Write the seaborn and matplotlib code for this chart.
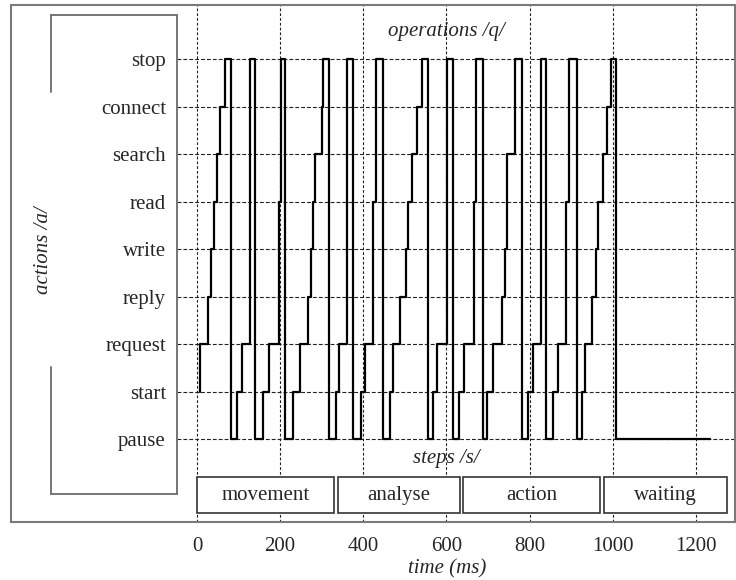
import matplotlib
matplotlib.use("Agg")
import matplotlib.pyplot as plt
from matplotlib.lines import Line2D
from matplotlib.patches import Rectangle
import seaborn as sns
import pandas as pd

# y categories, bottom to top
actions = ["pause", "start", "request", "reply", "write", "read", "search", "connect", "stop"]
time_ticks = [0, 200, 400, 600, 800, 1000, 1200]

# the trace starts on "start" and switches level at these times (ms)
trace_start_ms = 7
trace_end_ms = 1233
switch_ms = [7, 27, 34, 40, 47, 55, 67, 81, 96, 108, 128, 140, 158, 172, 196, 201,
             212, 230, 248, 268, 273, 280, 284, 300, 302, 318, 334, 342, 361, 376,
             394, 404, 424, 431, 447, 464, 471, 487, 503, 508, 516, 528, 540, 556,
             568, 576, 602, 615, 631, 642, 665, 671, 687, 697, 713, 733, 741, 746,
             765, 782, 797, 807, 827, 839, 857, 869, 887, 895, 915, 925, 933, 949,
             960, 965, 977, 985, 995, 1008]
# index into actions after each switch
switch_to = [2, 3, 4, 5, 6, 7, 8, 0, 1, 2, 8, 0, 1, 2, 5, 8,
             0, 1, 2, 3, 4, 5, 6, 7, 8, 0, 1, 2, 8, 0,
             1, 2, 5, 8, 0, 1, 2, 3, 4, 5, 6, 7, 8, 0,
             1, 2, 8, 0, 1, 2, 5, 8, 0, 1, 2, 3, 4, 6,
             8, 0, 1, 2, 8, 0, 1, 2, 5, 8, 0, 1, 2, 3,
             4, 5, 6, 7, 8, 0]

steps = ["movement", "analyse", "action", "waiting"]
step_from_ms = [0, 338, 640, 979]
step_to_ms = [330, 632, 969, 1275]

W, H = 736, 580


def fx(x):
    return x / W


def fy(y):
    return 1 - y / H


sns.set_style("white")
plt.rcParams["font.family"] = ["Liberation Serif", "DejaVu Serif"]

fig = plt.figure(figsize=(W / 100, H / 100), dpi=100)
ax = fig.add_axes([fx(177), fy(522), (735 - 177) / W, (522 - 5) / H])

# expand level switches into a stepped line
xs, ys = [trace_start_ms], [1]
level = 1
for t, new in zip(switch_ms, switch_to):
    xs += [t, t]
    ys += [level, new]
    level = new
xs.append(trace_end_ms)
ys.append(level)
df = pd.DataFrame({"time": xs, "level": ys})

sns.lineplot(data=df, x="time", y="level", sort=False, estimator=None,
             color="black", linewidth=1.6, ax=ax, zorder=3)

ax.set_xlim(-48.1, 1293.8)
ax.set_ylim(-1.747, 9.137)
ax.set_xticks(time_ticks)
ax.set_xticklabels([str(t) for t in time_ticks])
ax.set_yticks(range(len(actions)))
ax.set_yticklabels(actions)
ax.tick_params(length=0, labelsize=15)
ax.tick_params(axis="x", pad=11)
ax.tick_params(axis="y", pad=8)
ax.set_xlabel("")
ax.set_ylabel("")
ax.set_axisbelow(True)
ax.xaxis.grid(True, color="#222222", linewidth=0.8, linestyle=(0, (2.5, 1.8)))
ax.yaxis.grid(True, color="#222222", linewidth=0.8, linestyle=(0, (3.5, 1.8)))
for s in ax.spines.values():
    s.set_visible(False)

# step boxes
for name, a, b in zip(steps, step_from_ms, step_to_ms):
    ax.add_patch(Rectangle((a, -1.558), b - a, 0.758, facecolor="white",
                           edgecolor="#333333", linewidth=1.2, zorder=2))
    ax.text((a + b) / 2, -1.18, name, ha="center", va="center", fontsize=15, zorder=4)

ax.text(600, 8.57, "operations /q/", ha="center", va="center", fontsize=15, style="italic")
ax.text(600, -0.42, "steps /s/", ha="center", va="center", fontsize=15, style="italic",
        bbox=dict(facecolor="none", edgecolor="none"))

# outer frame
fig.add_artist(Rectangle((fx(11), fy(522)), (735 - 11) / W, (522 - 5) / H,
                         transform=fig.transFigure, fill=False,
                         edgecolor="#7a7a7a", linewidth=1.5))

# bracket around the action labels
bracket = [((51, 177), (15, 15)), ((177, 177), (15, 494)), ((51, 177), (494, 494)),
           ((51, 51), (15, 92)), ((51, 51), (367, 494))]
for (x0, x1), (y0, y1) in bracket:
    fig.add_artist(Line2D([fx(x0), fx(x1)], [fy(y0), fy(y1)],
                          transform=fig.transFigure, color="#6a6a6a", linewidth=1.3))

fig.text(fx(43), fy(250), "actions /a/", rotation=90, ha="center", va="center",
         fontsize=15, style="italic")
fig.text(fx(447), fy(569), "time (ms)", ha="center", va="center", fontsize=15, style="italic")

fig.savefig("out.png", dpi=100)
